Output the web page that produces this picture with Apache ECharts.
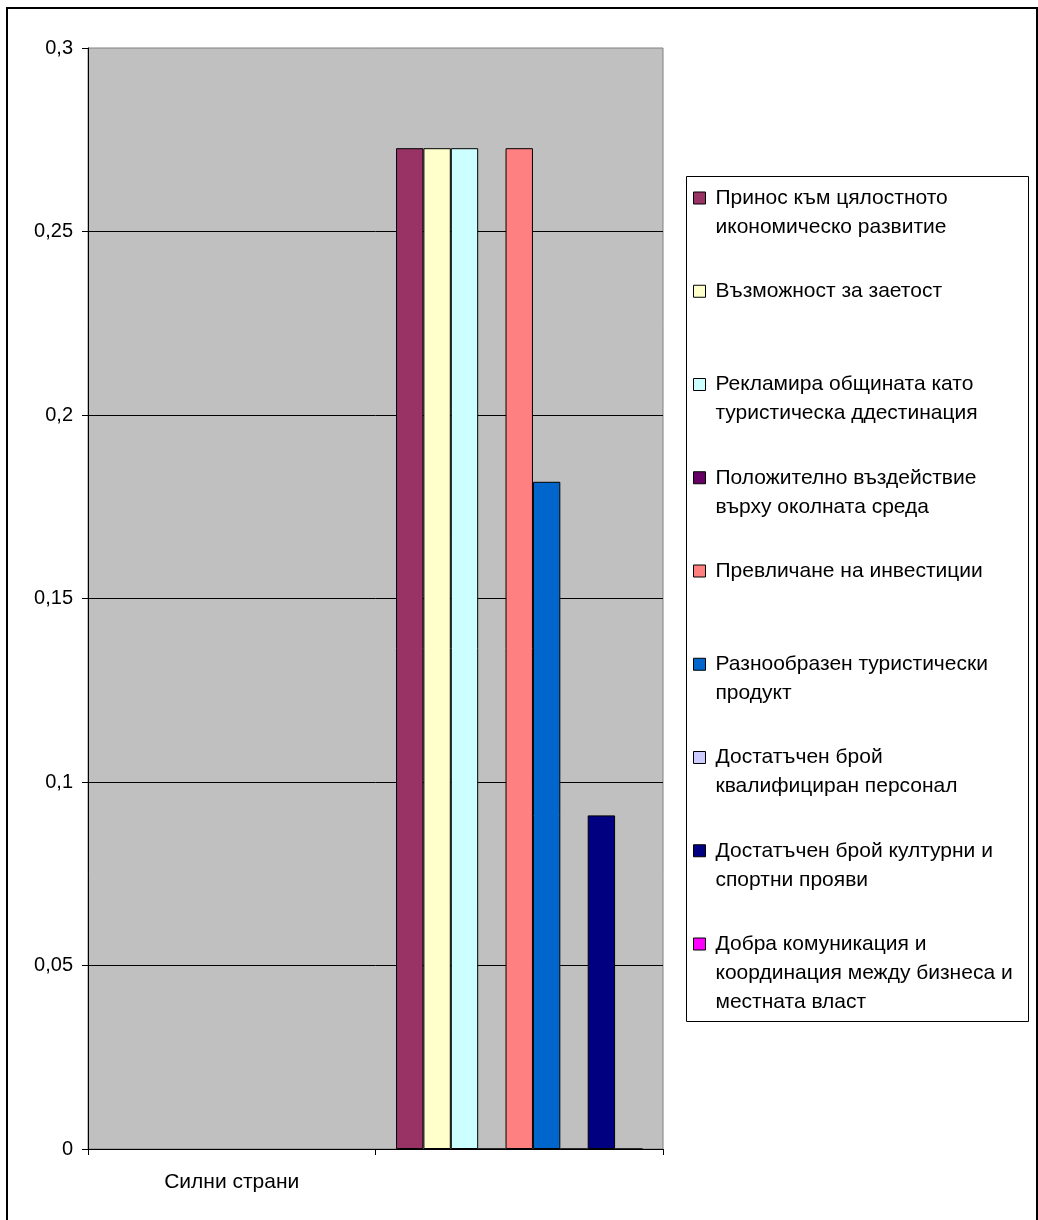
<!DOCTYPE html>
<html><head><meta charset="utf-8">
<script src="https://cdn.jsdelivr.net/npm/echarts@6/dist/echarts.min.js"></script>
<style>html,body{margin:0;padding:0;background:#fff}#c{width:1038px;height:1220px}</style>
</head><body><div id="c"></div>
<script>
const categories = ['Силни страни', ''];
const seriesNames = [
  'Принос към цялостното\nикономическо развитие',
  'Възможност за заетост',
  'Рекламира общината като\nтуристическа ддестинация',
  'Положително въздействие\nвърху околната среда',
  'Превличане на инвестиции',
  'Разнообразен туристически\nпродукт',
  'Достатъчен брой\nквалифициран персонал',
  'Достатъчен брой културни и\nспортни прояви',
  'Добра комуникация и\nкоординация между бизнеса и\nместната власт'
];
const strengthValues = [0.2727, 0.2727, 0.2727, 0, 0.2727, 0.1818, 0, 0.0909, 0];
const seriesColors = ['#993366', '#FFFFCC', '#CCFFFF', '#660066', '#FF8080', '#0066CC', '#CCCCFF', '#000080', '#FF00FF'];
const yMin = 0, yMax = 0.3, yStep = 0.05;

const FONT = "'Liberation Sans', Arial, sans-serif";
const LH = 29;

const series = seriesNames.map((name, i) => ({
  name: name,
  type: 'bar',
  data: [null, strengthValues[i]],
  barGap: '0%',
  barCategoryGap: '14.29%',
  itemStyle: { color: seriesColors[i], borderColor: '#000', borderWidth: 1 },
  emphasis: { disabled: true },
  animation: false
}));

const legends = seriesNames.map((name, i) => {
  const n = name.split('\n').length;
  const cy = 198 + i * 93.25;
  return {
    orient: 'vertical',
    left: 693,
    top: cy - (2 * n - 1) * LH / 2,
    padding: 0,
    data: [name],
    icon: 'rect',
    itemWidth: 12,
    itemHeight: 12,
    selectedMode: false,
    formatter: nm => '\n'.repeat(n - 1) + nm,
    itemStyle: { borderColor: '#000', borderWidth: 1 },
    textStyle: {
      fontFamily: FONT, fontSize: 21, color: '#000', lineHeight: LH,
      padding: [0, 0, 0, 5]
    }
  };
});

const chart = echarts.init(document.getElementById('c'), null, { renderer: 'canvas' });
chart.setOption({
  animation: false,
  backgroundColor: '#fff',
  textStyle: { fontFamily: FONT },
  grid: {
    left: 88, right: 375, top: 48, bottom: 71,
    show: true, backgroundColor: '#C0C0C0', borderColor: '#808080', borderWidth: 1
  },
  xAxis: {
    type: 'category',
    data: categories,
    axisLine: { lineStyle: { color: '#000', width: 1 } },
    axisTick: { show: true, length: 6, lineStyle: { color: '#000' } },
    axisLabel: { color: '#000', fontSize: 21, fontFamily: FONT, margin: 23 },
    splitLine: { show: false }
  },
  yAxis: {
    type: 'value',
    min: yMin, max: yMax, interval: yStep,
    axisLine: { show: true, lineStyle: { color: '#000', width: 1 } },
    axisTick: { show: true, length: 6, lineStyle: { color: '#000' } },
    axisLabel: {
      color: '#000', fontSize: 20, fontFamily: FONT, margin: 15,
      formatter: v => String(+v.toFixed(2)).replace('.', ',')
    },
    splitLine: { show: true, showMaxLine: false, lineStyle: { color: '#000', width: 1 } }
  },
  legend: legends,
  graphic: [
    { type: 'rect', silent: true, z: 0, shape: { x: 686.5, y: 176.5, width: 342, height: 845 },
      style: { fill: '#fff', stroke: '#000', lineWidth: 1 } },
    { type: 'rect', silent: true, z: 100, shape: { x: 7, y: 8, width: 1030, height: 1240 },
      style: { fill: 'none', stroke: '#000', lineWidth: 2 } }
  ],
  series: series
});
</script>
</body></html>
